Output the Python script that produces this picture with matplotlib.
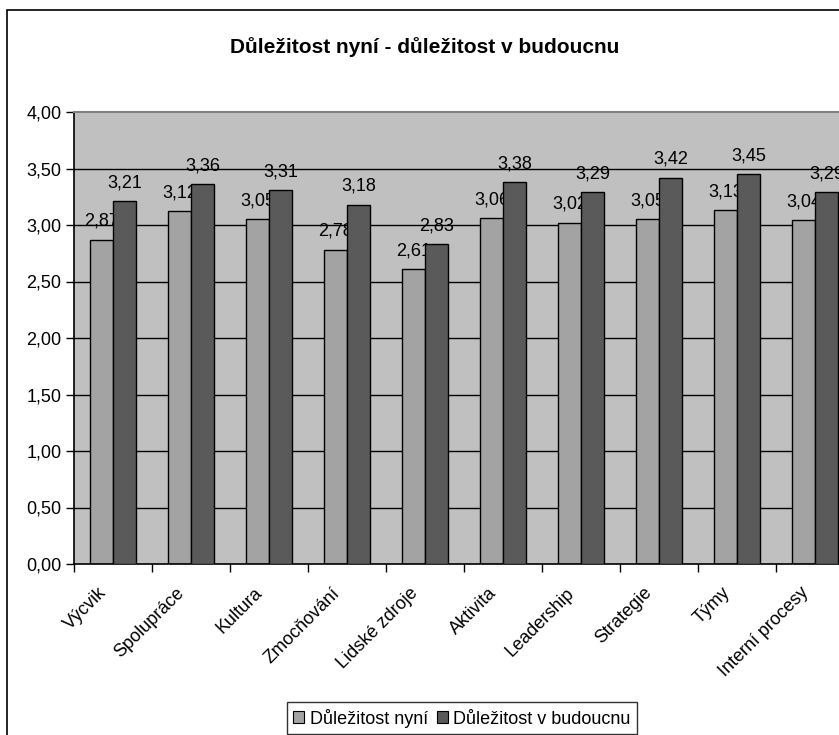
import matplotlib
matplotlib.use("Agg")
import matplotlib.pyplot as plt
from matplotlib.patches import Rectangle, Patch
import numpy as np

categories = ["Výcvik", "Spolupráce", "Kultura", "Zmocňování", "Lidské zdroje",
              "Aktivita", "Leadership", "Strategie", "Týmy", "Interní procesy"]
now_vals = [2.87, 3.12, 3.05, 2.78, 2.61, 3.06, 3.02, 3.05, 3.13, 3.04]
future_vals = [3.21, 3.36, 3.31, 3.18, 2.83, 3.38, 3.29, 3.42, 3.45, 3.29]
series_names = ["Důležitost nyní", "Důležitost v budoucnu"]
title = "Důležitost nyní - důležitost v budoucnu"
yticks = [0, 0.5, 1.0, 1.5, 2.0, 2.5, 3.0, 3.5, 4.0]

plt.rcParams['font.family'] = ['Liberation Sans', 'DejaVu Sans']

W, H = 839, 735
fig = plt.figure(figsize=(W / 100, H / 100), dpi=100)
fig.patch.set_facecolor("white")

# outer chart frame (extends beyond right edge)
fig.patches.append(Rectangle((7 / W, -0.1), 2.0, (H - 10) / H + 0.1,
                             transform=fig.transFigure, fill=False,
                             edgecolor="black", linewidth=1.2))

ax = fig.add_axes([74 / W, 1 - 564 / H, 780 / W, (564 - 112) / H])
ax.set_facecolor("#C0C0C0")

x = np.arange(len(categories))
w = 0.295
c_now = "#A3A3A3"
c_fut = "#5A5A5A"
ax.bar(x - w / 2, now_vals, w, color=c_now, edgecolor="black", linewidth=1.0, zorder=2)
ax.bar(x + w / 2, future_vals, w, color=c_fut, edgecolor="black", linewidth=1.0, zorder=3)

def fmt(v):
    return f"{v:.2f}".replace(".", ",")

FS = 13
for xi, v in zip(x, now_vals):
    ax.annotate(fmt(v), (xi - w / 2, v), xytext=(0, 10), textcoords="offset points",
                ha="center", va="baseline", fontsize=FS, zorder=2.5)
for xi, v in zip(x, future_vals):
    ax.annotate(fmt(v), (xi + w / 2, v), xytext=(0, 10), textcoords="offset points",
                ha="center", va="baseline", fontsize=FS, zorder=4, annotation_clip=False)

ax.set_xlim(-0.5, len(categories) - 0.5)
ax.set_ylim(0, 4)

for yv in yticks[1:-1]:
    ax.axhline(yv, color="black", linewidth=1.0, zorder=1)

ax.set_yticks(yticks)
ax.set_yticklabels([fmt(v) for v in yticks], fontsize=FS)
ax.tick_params(axis="y", direction="out", length=6, width=1, pad=3)

ax.set_xticks(np.arange(-0.5, len(categories), 1.0))
ax.set_xticklabels([])
ax.tick_params(axis="x", which="major", direction="out", length=6, width=1)
ax.set_xticks(x - 0.12, minor=True)
ax.set_xticklabels(categories, minor=True, rotation=45, ha="right", va="center",
                   rotation_mode="anchor", fontsize=FS)
ax.tick_params(axis="x", which="minor", length=0, pad=19)

for s in ["left", "bottom"]:
    ax.spines[s].set_color("black")
    ax.spines[s].set_linewidth(1.2)
ax.spines["top"].set_color("#808080")
ax.spines["top"].set_linewidth(1.5)
ax.spines["right"].set_visible(False)

fig.text(425 / W, 1 - 47 / H, title, ha="center", va="center",
         fontsize=15, fontweight="bold")

handles = [Patch(facecolor=c_now, edgecolor="black", linewidth=0.8),
           Patch(facecolor=c_fut, edgecolor="black", linewidth=0.8)]
leg = fig.legend(handles, series_names, loc="center",
                 bbox_to_anchor=(462 / W, 1 - 718 / H), ncol=2, fontsize=FS,
                 frameon=True, fancybox=False, handlelength=0.6, handleheight=0.6,
                 handletextpad=0.3, columnspacing=0.5, borderpad=0.35,
                 borderaxespad=0)
leg.get_frame().set_edgecolor("black")
leg.get_frame().set_linewidth(1.0)

fig.savefig("out.png", dpi=100)
